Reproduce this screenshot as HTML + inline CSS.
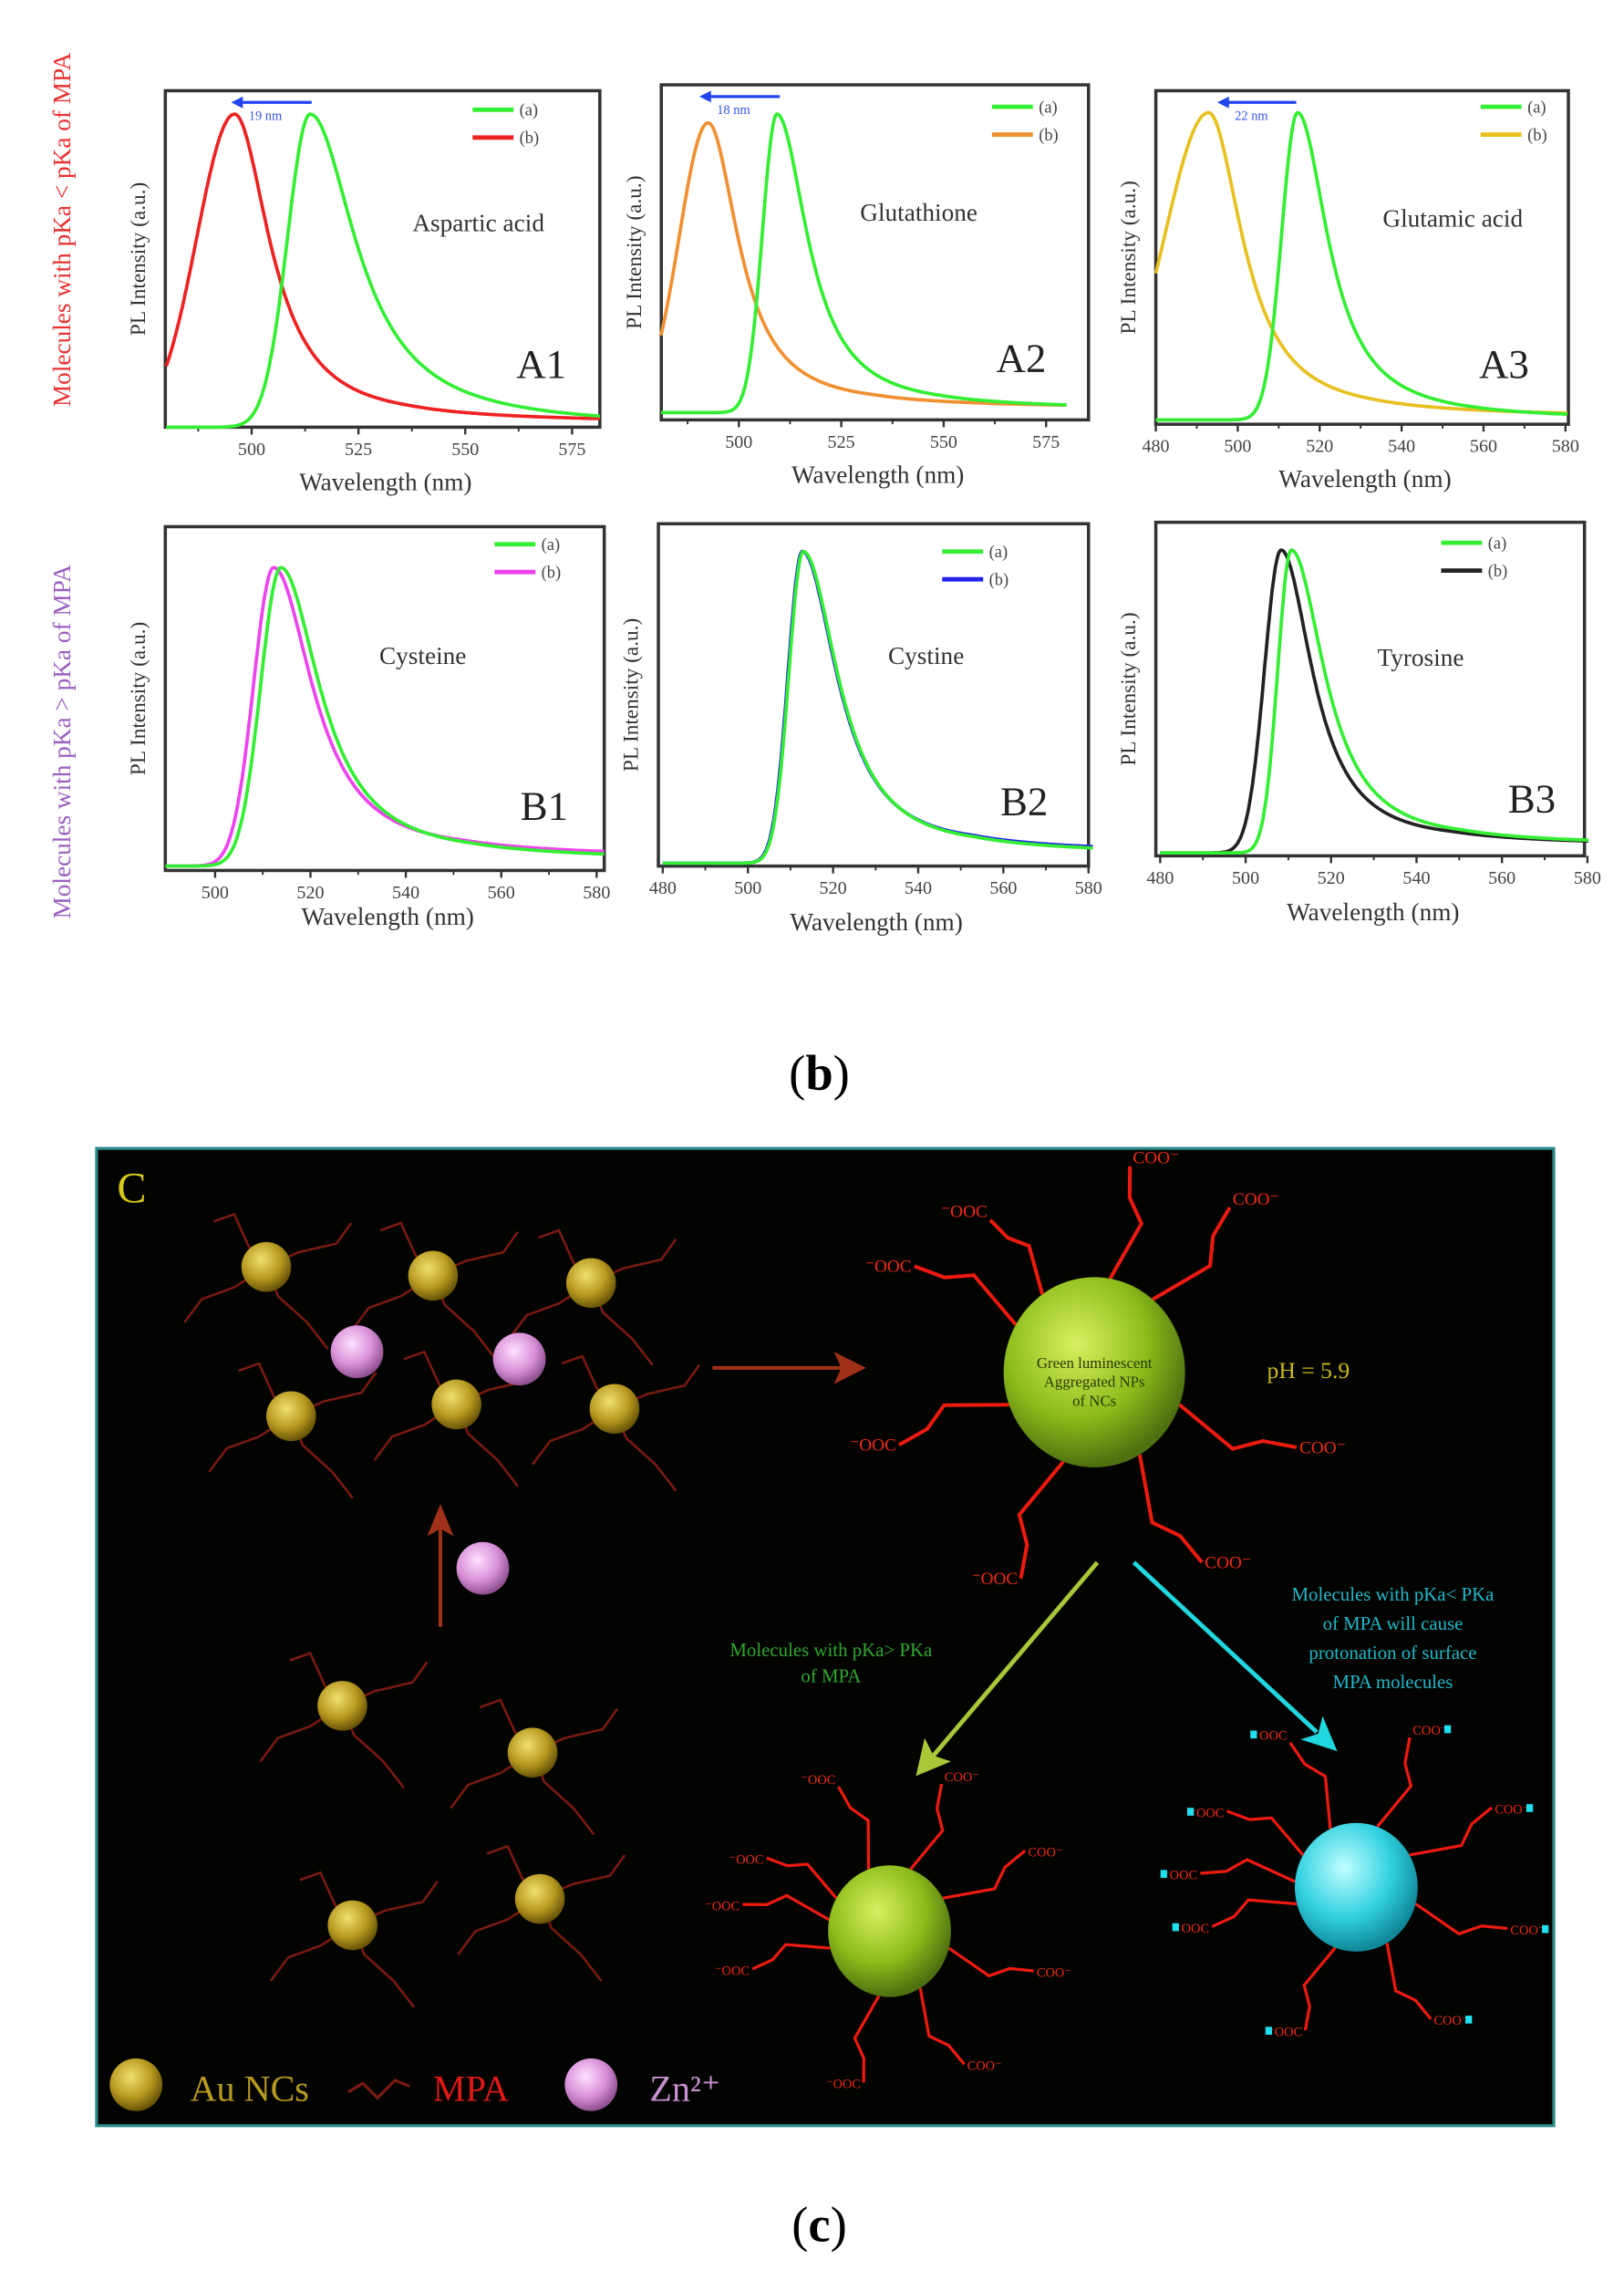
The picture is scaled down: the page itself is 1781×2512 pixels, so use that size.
<!DOCTYPE html>
<html><head><meta charset="utf-8"><style>
html,body{margin:0;padding:0;background:#fff}
svg{display:block}
text{font-family:"Liberation Serif",serif}
</style></head><body>
<svg id="s" width="1781" height="2512" viewBox="0 0 1110 1566" preserveAspectRatio="none" xmlns="http://www.w3.org/2000/svg">
<rect width="1110" height="1566" fill="#fff"/>
<g id="charts"></g>
<text x="48" y="157" transform="rotate(-90 48 157)" text-anchor="middle" font-size="17" fill="#e83030">Molecules with pKa &lt; pKa of MPA</text>
<text x="48" y="507" transform="rotate(-90 48 507)" text-anchor="middle" font-size="17" fill="#9a5fc0">Molecules with pKa &gt; pKa of MPA</text>
<text x="560" y="745" text-anchor="middle" font-size="34" font-family="Liberation Serif">(<tspan font-weight="bold">b</tspan>)</text>
<rect x="66" y="785" width="996" height="668" fill="#030402" stroke="#2a8a8a" stroke-width="2"/>
<g id="diag"></g>
<text x="560" y="1532" text-anchor="middle" font-size="34">(<tspan font-weight="bold">c</tspan>)</text>
</svg>
<script>
const NS="http://www.w3.org/2000/svg";
function el(parent,tag,attrs,txt){const e=document.createElementNS(NS,tag);for(const k in attrs)e.setAttribute(k,attrs[k]);if(txt!==undefined)e.textContent=txt;parent.appendChild(e);return e;}
const C=document.getElementById('charts');
function peak(l,p,wl,wr){if(l<p){const d=(l-p)/wl;return Math.exp(-d*d);}const d=(l-p)/wr;return 1/(1+d*d);}
const panels=[
 {x0:113,x1:410,y0:62,y1:292,l0:480,ppn:2.92,ref:500,refx:172,ticks:[500,525,550,575],minor:[487.5,512.5,537.5,562.5],name:"Aspartic acid",nx:327,ny:158,lab:"A1",lx:370,ly:258,
  series:[{c:"#33ee33",p:513.7,wl:7.5,wr:13,top:78,base:292},{c:"#ee2222",p:496,wl:12.5,wr:10,top:78,base:292,bl:289}],legc:["#33ee33","#ee2222"],legx:323,legy:75,shift:"19 nm",ax:[158,213]},
 {x0:452,x1:744,y0:58,y1:287,l0:481,ppn:2.8,ref:500,refx:505,ticks:[500,525,550,575],minor:[487.5,512.5,537.5,562.5],name:"Glutathione",nx:628,ny:151,lab:"A2",lx:698,ly:254,lend:580,
  series:[{c:"#33ee33",p:509.3,wl:5,wr:9,top:78,base:282,bl:280},{c:"#f09030",p:492.5,wl:10,wr:9,top:84,base:282,bl:279}],legc:["#33ee33","#f09030"],legx:678,legy:73,shift:"18 nm",ax:[478,533]},
 {x0:790,x1:1072,y0:62,y1:290,l0:480,ppn:2.8,ref:480,refx:790,ticks:[480,500,520,540,560,580],minor:[490,510,530,550,570],name:"Glutamic acid",nx:993,ny:155,lab:"A3",lx:1028,ly:258,
  series:[{c:"#33ee33",p:514.6,wl:5.5,wr:9,top:77,base:287},{c:"#e8c020",p:492.9,wl:15,wr:10,top:77,base:287,bl:285}],legc:["#33ee33","#e8c020"],legx:1012,legy:73,shift:"22 nm",ax:[832,886]},
 {x0:113,x1:413,y0:360,y1:595,l0:489.6,ppn:3.26,ref:500,refx:147,ticks:[500,520,540,560,580],minor:[510,530,550,570],name:"Cysteine",nx:289,ny:454,lab:"B1",lx:372,ly:560,
  series:[{c:"#33ee33",p:513.8,wl:6,wr:10,top:388,base:592,bl:588},{c:"#ee44ee",p:512.3,wl:6,wr:10,top:388,base:592,bl:586}],legc:["#33ee33","#ee44ee"],legx:338,legy:372,
  xlab:[265,632]},
 {x0:450,x1:744,y0:358,y1:592,l0:480,ppn:2.91,ref:480,refx:453,ticks:[480,500,520,540,560,580],minor:[490,510,530,550,570],name:"Cystine",nx:633,ny:454,lab:"B2",lx:700,ly:557,
  series:[{c:"#33ee33",p:513,wl:4.8,wr:10,top:377,base:590,bl:584},{c:"#2222ee",p:512.8,wl:4.8,wr:10,top:377,base:590,bl:583}],legc:["#33ee33","#2222ee"],legx:644,legy:377,xlab:[598,636]},
 {x0:790,x1:1083,y0:357,y1:585,l0:480,ppn:2.92,ref:480,refx:793,ticks:[480,500,520,540,560,580],minor:[490,510,530,550,570],name:"Tyrosine",nx:971,ny:455,lab:"B3",lx:1047,ly:555,
  series:[{c:"#33ee33",p:510.7,wl:4.5,wr:9.5,top:376,base:583,bl:578},{c:"#222222",p:508.3,wl:5.5,wr:9,top:376,base:583,bl:578}],legc:["#33ee33","#222222"],legx:985,legy:371,xlab:[933,629]}
];
panels.forEach((P,i)=>{
 const g=el(C,'g',{});
 const X=l=>P.refx+(l-P.ref)*P.ppn;
 const lmax=P.l0+(P.x1-P.x0)/P.ppn;
 el(g,'rect',{x:P.x0,y:P.y0,width:P.x1-P.x0,height:P.y1-P.y0,fill:'none',stroke:'#333',"stroke-width":2.2});
 P.ticks.forEach(t=>{const x=X(t);el(g,'line',{x1:x,x2:x,y1:P.y1,y2:P.y1+5,stroke:'#333','stroke-width':1.5});
  el(g,'text',{x:x,y:P.y1+19,'text-anchor':'middle','font-size':12.5,fill:'#444'},String(t));});
 P.minor.forEach(t=>{const x=X(t);if(x>P.x0&&x<P.x1)el(g,'line',{x1:x,x2:x,y1:P.y1,y2:P.y1+3,stroke:'#333','stroke-width':1.2});});
 const xl=P.xlab?P.xlab:[(P.x0+P.x1)/2+5,P.y1+43];
 el(g,'text',{x:(P.x0+P.x1)/2+2,y:xl[1]||P.y1+43,'text-anchor':'middle','font-size':17,fill:'#333'},"Wavelength (nm)");
 const yc=(P.y0+P.y1)/2;
 el(g,'text',{x:P.x0-14,y:yc,transform:`rotate(-90 ${P.x0-14} ${yc})`,'text-anchor':'middle','font-size':14.5,fill:'#333'},"PL Intensity (a.u.)");
 el(g,'text',{x:P.nx,y:P.ny,'text-anchor':'middle','font-size':17,fill:'#333'},P.name);
 el(g,'text',{x:P.lx,y:P.ly,'text-anchor':'middle','font-size':28,fill:'#222'},P.lab);
 [1,0].forEach(k=>{const S=P.series[k];const base=S.base,bl=S.bl!==undefined?S.bl:base;
  let d="";const le=P.lend||lmax;
  for(let l=P.l0;l<=le;l+=0.25){const v=peak(l,S.p,S.wl,S.wr);
   const frac=Math.min(1,Math.max(0,(l-S.p)/40));const b=base+(bl-base)*frac;
   const y=b-(b-S.top)*v;d+=(d?"L":"M")+X(l).toFixed(1)+","+y.toFixed(1);}
  el(g,'path',{d:d,fill:'none',stroke:S.c,'stroke-width':2.3});});
 ['(a)','(b)'].forEach((t,j)=>{const y=P.legy+j*19;
  el(g,'line',{x1:P.legx,x2:P.legx+28,y1:y,y2:y,stroke:P.legc[j],'stroke-width':3});
  el(g,'text',{x:P.legx+32,y:y+4,'font-size':11.5,fill:'#444'},t);});
 if(P.ax){el(g,'line',{x1:P.ax[0]+6,x2:P.ax[1],y1:P.y0+8,y2:P.y0+8,stroke:'#2244ee','stroke-width':2});
  el(g,'path',{d:`M${P.ax[0]},${P.y0+8} l8,-4 l0,8z`,fill:'#2244ee'});
  el(g,'text',{x:P.ax[0]+12,y:P.y0+20,'font-size':9,fill:'#3355ee'},P.shift);}
});
const D=document.getElementById('diag');
const defs=el(D,'defs',{});
function grad(id,c1,c2,c3){const r=el(defs,'radialGradient',{id:id,cx:'0.4',cy:'0.35',r:'0.65'});
 el(r,'stop',{offset:'0',"stop-color":c1});el(r,'stop',{offset:'0.6',"stop-color":c2});el(r,'stop',{offset:'1',"stop-color":c3});}
grad('gold','#f0e070','#b89a20','#6a5508');
grad('pink','#ffe0ff','#d890d8','#905090');
grad('lime','#d8f060','#8cbc1a','#4e7010');
grad('cyan','#c0ffff','#30d0e0','#108898');
el(D,'text',{x:80,y:822,'font-size':30,fill:'#d8c818'},'C');
function zig(x,y,pts,col,w){let d=`M${x},${y}`;pts.forEach(p=>{x+=p[0];y+=p[1];d+=` L${x},${y}`;});el(D,'path',{d:d,fill:'none',stroke:col,'stroke-width':w||1.6});}
function aunc(cx,cy){const c='#7a1a10';
 zig(cx,cy,[[-12,-14],[-10,-22],[-14,5]],c);zig(cx,cy,[[22,-10],[26,-6],[10,-14]],c);
 zig(cx,cy,[[-22,14],[-22,8],[-12,16]],c);zig(cx,cy,[[8,20],[20,18],[14,18]],c);
 el(D,'circle',{cx:cx,cy:cy,r:17,fill:'url(#gold)'});}
[[182,866],[296,872],[404,877],[199,968],[312,960],[420,963],[234,1166],[364,1198],[241,1316],[369,1298]].forEach(p=>aunc(p[0],p[1]));
[[244,924],[355,929],[330,1072]].forEach(p=>el(D,'circle',{cx:p[0],cy:p[1],r:18,fill:'url(#pink)'}));
el(D,'line',{x1:487,y1:935,x2:575,y2:935,stroke:'#a03018','stroke-width':2.5});
el(D,'path',{d:'M592,935 l-22,-11 l5,11 l-5,11z',fill:'#a03018'});
el(D,'line',{x1:301,y1:1112,x2:301,y2:1045,stroke:'#a03018','stroke-width':2.5});
el(D,'path',{d:'M301,1028 l-9,22 l9,-5 l9,5z',fill:'#a03018'});
function star(cx,cy,rx,ry,fill,arms,fs,lw,endcol){
 arms.forEach(a=>{const ang=a[0]*Math.PI/180,L=a[1];
  const sx=cx+Math.cos(ang)*rx,sy=cy+Math.sin(ang)*ry;
  const mx=sx+Math.cos(ang)*L*0.45+Math.cos(ang+1.2)*L*0.2,my=sy+Math.sin(ang)*L*0.45+Math.sin(ang+1.2)*L*0.2;
  const m2x=mx+Math.cos(ang-0.6)*L*0.25,m2y=my+Math.sin(ang-0.6)*L*0.25;
  const ex=sx+Math.cos(ang)*L,ey=sy+Math.sin(ang)*L;
  el(D,'path',{d:`M${sx},${sy} L${mx},${my} L${m2x},${m2y} L${ex},${ey}`,fill:'none',stroke:'#ee1a10','stroke-width':lw});
  const right=Math.cos(ang)>0;
  const tx=ex+(right?2:-2),ty=ey+(Math.sin(ang)<-0.5?-2:4);
  el(D,'text',{x:tx,y:ty,'font-size':fs,fill:'#ee2a18','text-anchor':right?'start':'end'},right?'COO⁻':'⁻OOC');
  if(endcol){el(D,'rect',{x:right?tx+fs*2.4:tx-fs*2.8,y:ty-fs*0.7,width:fs*0.5,height:fs*0.6,fill:endcol});}
 });
 el(D,'ellipse',{cx:cx,cy:cy,rx:rx,ry:ry,fill:fill});}
star(748,938,62,65,'url(#lime)',[[-80,78],[-50,82],[-150,80],[-125,62],[160,80],[20,85],[60,85],[110,85]],12,2.5);
el(D,'text',{x:748,y:935,'text-anchor':'middle','font-size':10.5,fill:'#2a3a08'},'Green luminescent');
el(D,'text',{x:748,y:948,'text-anchor':'middle','font-size':10.5,fill:'#2a3a08'},'Aggregated NPs');
el(D,'text',{x:748,y:961,'text-anchor':'middle','font-size':10.5,fill:'#2a3a08'},'of NCs');
el(D,'text',{x:866,y:942,'font-size':16,fill:'#c8b818'},'pH = 5.9');
el(D,'line',{x1:750,y1:1068,x2:638,y2:1200,stroke:'#a8c838','stroke-width':3});
el(D,'path',{d:'M626,1214 l6,-26 l6,12 l12,4z',fill:'#a8c838'});
el(D,'line',{x1:775,y1:1068,x2:900,y2:1184,stroke:'#20d8e0','stroke-width':3});
el(D,'path',{d:'M914,1197 l-25,-8 l12,-4 l3,-12z',fill:'#20d8e0'});
star(608,1320,42,45,'url(#lime)',[[-110,60],[-70,62],[-150,55],[-170,60],[165,55],[15,60],[60,60],[100,60],[-30,65]],9,2);
star(927,1290,42,44,'url(#cyan)',[[-115,65],[-70,65],[-150,60],[-175,65],[165,60],[15,65],[60,60],[110,60],[-30,65]],9,2,'#20e0f0');
['Molecules with pKa> PKa','of MPA'].forEach((t,i)=>el(D,'text',{x:568,y:1132+i*18,'text-anchor':'middle','font-size':13,fill:'#2ea82e'},t));
['Molecules with pKa< PKa','of MPA will cause','protonation of surface','MPA molecules'].forEach((t,i)=>el(D,'text',{x:952,y:1094+i*20,'text-anchor':'middle','font-size':13,fill:'#20b8c8'},t));
el(D,'circle',{cx:93,cy:1425,r:18,fill:'url(#gold)'});
el(D,'text',{x:130,y:1436,'font-size':25,fill:'#b89a20'},'Au NCs');
el(D,'path',{d:'M238,1430 l10,-6 l10,10 l12,-12 l10,4',fill:'none',stroke:'#7a1a10','stroke-width':2});
el(D,'text',{x:296,y:1436,'font-size':25,fill:'#e01818'},'MPA');
el(D,'circle',{cx:404,cy:1425,r:18,fill:'url(#pink)'});
el(D,'text',{x:444,y:1436,'font-size':25,fill:'#c890d0'},'Zn²⁺');
</script>
</body></html>
